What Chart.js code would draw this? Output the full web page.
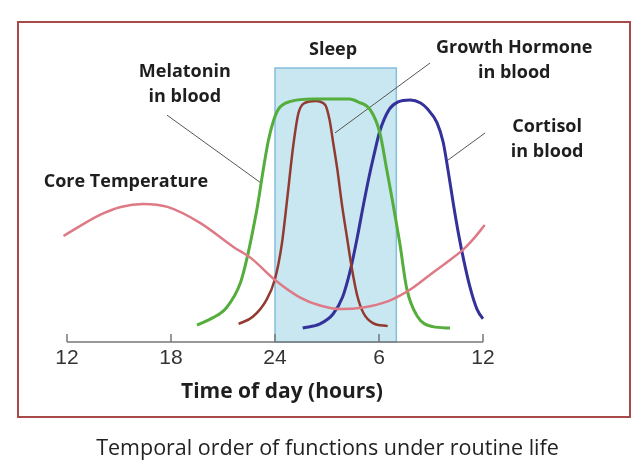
<!DOCTYPE html>
<html>
<head>
<meta charset="utf-8">
<script src="https://cdn.jsdelivr.net/npm/chart.js@4.4.1/dist/chart.umd.min.js"></script>
<style>
  html, body { margin: 0; padding: 0; background: #fff; }
  #wrap { position: relative; width: 640px; height: 470px; overflow: hidden; }
  #frame { position: absolute; left: 17px; top: 21px; width: 610px; height: 393px; border: 2px solid #a84a4a; }
  #chart { position: absolute; left: 0; top: 0; }
  #caption { position: absolute; left: 0; top: 432px; width: 655px; text-align: center;
             font: 21.5px "Open Sans", sans-serif; color: #222; }
</style>
</head>
<body>
<div id="wrap">
  <div id="frame"></div>
  <canvas id="chart" width="640" height="470"></canvas>
  <div id="caption">Temporal order of functions under routine life</div>
</div>
<script>
// hours run 12 (noon) .. 36 (noon next day)
const hourTicks = [12, 18, 24, 30, 36];
const tickLabels = ['12', '18', '24', '6', '12'];
const sleepStart = 24;
const sleepEnd = 31;

const tempHours = [11.8, 13.9, 15.1, 16.4, 17.8, 19.7, 21.6, 22.6, 24, 25.4, 26.6, 27.8, 29.1, 30.5, 31.2, 32, 33.1, 34, 34.9, 35.5, 36.1];
const tempLevel = [38.7, 46.4, 49.3, 50.4, 49.3, 43.4, 34.7, 30.7, 22.6, 16.4, 13.3, 12, 12.6, 14.8, 16.9, 20, 25.3, 29.5, 34, 38, 42.7];

const melHours = [19.5, 20.4, 21.2, 22.0, 22.4, 22.7, 23.0, 23.3, 23.6, 23.9, 24.2, 24.9, 26.2, 28.3, 28.8, 29.5, 30.05, 30.45, 30.8, 31.2, 31.6, 32.2, 33.1, 34.1];
const melLevel = [6.2, 8.8, 12.5, 21.5, 31, 40, 50, 62, 73, 80.5, 85, 87.8, 88.7, 88.7, 87.6, 84.7, 76.3, 62.8, 50.7, 36, 19.5, 9.5, 5.6, 5.1];

const ghHours = [21.9, 22.7, 23.5, 24.0, 24.4, 24.7, 25.05, 25.35, 25.7, 26.35, 26.9, 27.15, 27.35, 27.6, 27.85, 28.15, 28.45, 28.75, 29.1, 29.65, 30.5];
const ghLevel = [6.6, 9.1, 15.3, 23, 36, 52, 71.5, 83.5, 87.2, 88, 86.5, 81, 73, 62.8, 50.7, 38.3, 26.3, 16.8, 10.6, 6.9, 5.8];

const cortHours = [25.6, 26.6, 27.35, 27.9, 28.35, 28.75, 29.1, 29.4, 29.7, 30.05, 30.6, 31.1, 31.8, 32.4, 32.8, 33.35, 33.7, 34.0, 34.3, 34.6, 34.9, 35.25, 35.65, 36.0, 36.4];
const cortLevel = [5.1, 6.6, 10.2, 16.4, 26.3, 38.3, 50, 59.5, 68, 77, 85, 87.6, 88.3, 87.2, 85, 80, 73, 62, 50, 39, 29.5, 20, 12, 8.5, 6.9];

// annotation text and leader lines, placed in (hour, level) coordinates
const notes = [
    { lines: ['Sleep'], at: [27.35, 106.6] },
    { lines: ['Melatonin', 'in blood'], at: [18.8, 98.5] },
    { lines: ['Growth Hormone', 'in blood'], at: [37.8, 107.3] },
    { lines: ['Cortisol', 'in blood'], at: [39.7, 78.5] },
    { lines: ['Core Temperature'], at: [15.4, 58.4] }
];
const leaders = [
    [[17.77, 82.8], [23.2, 58.0]],
    [[32.94, 101.8], [27.46, 76.3]],
    [[36.12, 76.3], [33.98, 66.4]]
];

function pts(hours, level) {
    return hours.map((h, i) => ({ x: h, y: level[i] }));
}

const sketch = {
    id: 'sketch',
    beforeDatasetsDraw(chart) {
        const { ctx, scales: { x, y } } = chart;
        const x0 = x.getPixelForValue(sleepStart), x1 = x.getPixelForValue(sleepEnd);
        const y0 = y.getPixelForValue(100), y1 = y.getPixelForValue(0);
        ctx.save();
        ctx.fillStyle = '#c8e7f0';
        ctx.fillRect(x0, y0, x1 - x0, y1 - y0);
        ctx.strokeStyle = '#86bfdc';
        ctx.lineWidth = 1.5;
        ctx.strokeRect(x0, y0, x1 - x0, y1 - y0);

        ctx.strokeStyle = '#555';
        ctx.lineWidth = 1;
        leaders.forEach(([a, b]) => {
            ctx.beginPath();
            ctx.moveTo(x.getPixelForValue(a[0]), y.getPixelForValue(a[1]));
            ctx.lineTo(x.getPixelForValue(b[0]), y.getPixelForValue(b[1]));
            ctx.stroke();
        });
        ctx.restore();
    },
    afterDatasetsDraw(chart) {
        const { ctx, chartArea, scales: { x, y } } = chart;
        const base = y.getPixelForValue(0);
        ctx.save();
        // axis line with ticks pointing up
        ctx.strokeStyle = '#777';
        ctx.lineWidth = 1.5;
        ctx.beginPath();
        ctx.moveTo(x.getPixelForValue(12), base);
        ctx.lineTo(x.getPixelForValue(36), base);
        hourTicks.forEach(h => {
            const px = x.getPixelForValue(h);
            ctx.moveTo(px, base);
            ctx.lineTo(px, base - 8);
        });
        ctx.stroke();

        ctx.fillStyle = '#1e1e1e';
        ctx.textAlign = 'center';
        ctx.textBaseline = 'middle';
        ctx.font = 'bold 18px "Open Sans"';
        notes.forEach(n => {
            const px = x.getPixelForValue(n.at[0]);
            const py = y.getPixelForValue(n.at[1]);
            n.lines.forEach((t, i) => ctx.fillText(t, px, py + i * 25));
        });

        ctx.font = 'bold 21px "Open Sans"';
        ctx.fillText('Time of day (hours)', x.getPixelForValue(24.4), chartArea.bottom + 50);
        ctx.restore();
    }
};

const lineStyle = {
    pointRadius: 0,
    cubicInterpolationMode: 'monotone',
    fill: false,
    clip: false
};

new Chart(document.getElementById('chart'), {
    type: 'line',
    data: {
        datasets: [
            { label: 'Core Temperature', data: pts(tempHours, tempLevel), borderColor: '#de7a85', borderWidth: 2.5, ...lineStyle },
            { label: 'Melatonin in blood', data: pts(melHours, melLevel), borderColor: '#55ad3c', borderWidth: 3, ...lineStyle },
            { label: 'Growth Hormone in blood', data: pts(ghHours, ghLevel), borderColor: '#923a30', borderWidth: 2.5, ...lineStyle },
            { label: 'Cortisol in blood', data: pts(cortHours, cortLevel), borderColor: '#34319a', borderWidth: 3, ...lineStyle }
        ]
    },
    options: {
        responsive: false,
        devicePixelRatio: 1,
        animation: false,
        layout: { padding: { left: 67, right: 157, top: 68, bottom: 88 } },
        plugins: { legend: { display: false }, tooltip: { enabled: false } },
        scales: {
            x: {
                type: 'linear',
                min: 12,
                max: 36,
                afterBuildTicks: s => { s.ticks = hourTicks.map(v => ({ value: v })); },
                afterFit: s => { s.height = 40; },
                grid: { display: false, drawTicks: false },
                border: { display: false },
                ticks: {
                    padding: 4,
                    autoSkip: false,
                    maxRotation: 0,
                    color: '#333',
                    font: { family: '"Liberation Sans"', size: 21 },
                    callback: v => tickLabels[hourTicks.indexOf(v)]
                }
            },
            y: { display: false, min: 0, max: 100 }
        }
    },
    plugins: [sketch]
});
</script>
</body>
</html>
